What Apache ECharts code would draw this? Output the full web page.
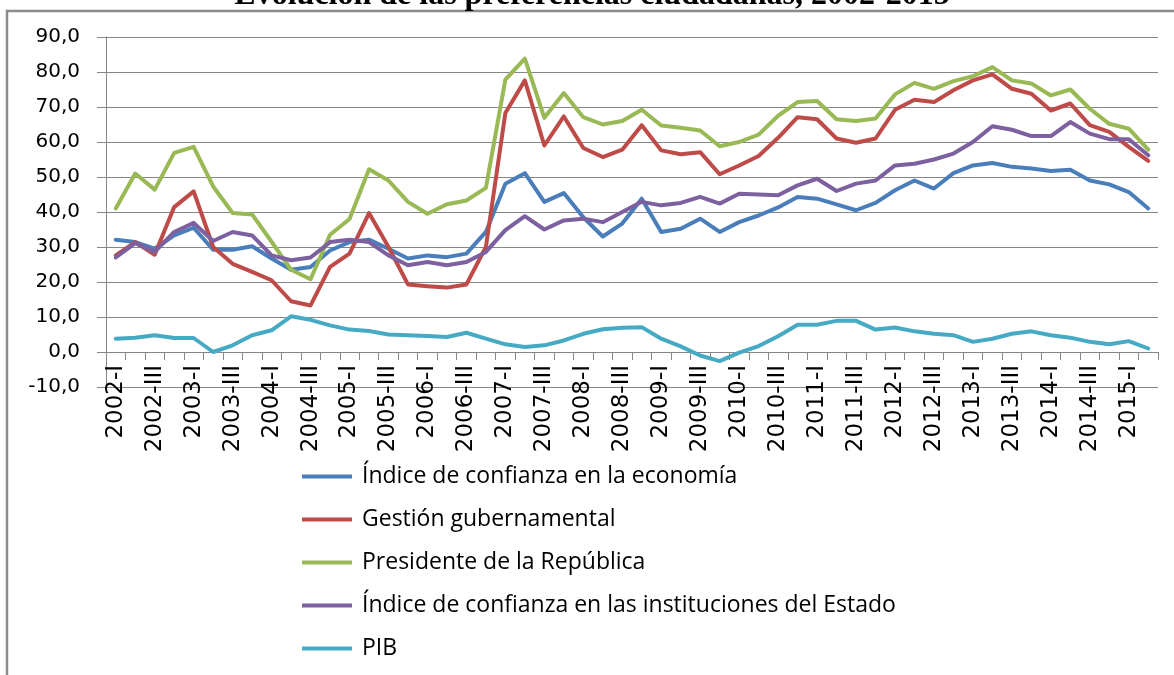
<!DOCTYPE html>
<html>
<head>
<meta charset="utf-8">
<title>Evolución de las preferencias ciudadanas</title>
<script src="https://cdn.jsdelivr.net/npm/echarts@6/dist/echarts.min.js"></script>
<style>
  html, body { margin: 0; padding: 0; background: #fff; }
  #chart { width: 1174px; height: 675px; }
</style>
</head>
<body>
<div id="chart"></div>
<script type="text/javascript">
// trimestres 2002-I .. 2015-II
var quarters = [
  '2002-I','2002-II','2002-III','2002-IV','2003-I','2003-II','2003-III','2003-IV',
  '2004-I','2004-II','2004-III','2004-IV','2005-I','2005-II','2005-III','2005-IV',
  '2006-I','2006-II','2006-III','2006-IV','2007-I','2007-II','2007-III','2007-IV',
  '2008-I','2008-II','2008-III','2008-IV','2009-I','2009-II','2009-III','2009-IV',
  '2010-I','2010-II','2010-III','2010-IV','2011-I','2011-II','2011-III','2011-IV',
  '2012-I','2012-II','2012-III','2012-IV','2013-I','2013-II','2013-III','2013-IV',
  '2014-I','2014-II','2014-III','2014-IV','2015-I','2015-II'
];

var seriesNames = [
  'Índice de confianza en la economía',
  'Gestión gubernamental',
  'Presidente de la República',
  'Índice de confianza en las instituciones del Estado',
  'PIB'
];
var colors = ['#4A7EBB', '#BE4B48', '#98B954', '#7D60A0', '#46AAC5'];

var economia = [32.1,31.4,29.5,33.3,35.5,29.2,29.2,30.2,26.7,23.5,24.3,29.0,31.4,32.1,29.5,26.7,
  27.6,27.1,28.1,34.3,48.1,51.1,42.9,45.4,38.5,33.0,36.7,43.8,34.3,35.2,38.1,34.3,
  37.1,39.0,41.3,44.3,43.8,42.2,40.5,42.6,46.2,49.0,46.7,51.1,53.3,54.0,52.9,52.4,
  51.7,52.1,49.0,47.9,45.7,41.0];
var gestion = [27.6,31.4,27.8,41.4,45.9,30.0,25.2,22.9,20.5,14.5,13.3,24.3,28.1,39.7,30.0,19.3,
  18.8,18.4,19.3,30.0,68.3,77.6,59.0,67.3,58.3,55.7,57.8,64.8,57.6,56.5,57.1,50.8,
  53.3,56.0,61.2,67.1,66.5,61.0,59.8,61.0,69.2,72.1,71.4,74.8,77.6,79.3,75.2,73.8,
  69.0,71.0,64.8,62.9,58.6,54.6];
var presidente = [41.0,51.0,46.4,56.9,58.6,47.3,39.7,39.3,31.5,23.5,20.8,33.5,38.0,52.2,49.0,42.9,
  39.5,42.2,43.3,46.9,77.8,83.8,66.9,74.0,67.1,65.0,66.0,69.2,64.7,64.1,63.3,58.8,
  60.0,62.1,67.5,71.4,71.7,66.5,66.0,66.7,73.6,76.9,75.2,77.4,78.8,81.4,77.6,76.7,
  73.3,75.0,69.5,65.2,63.8,57.8];
var instituciones = [27.0,31.1,28.6,34.3,36.9,31.7,34.3,33.3,27.6,26.2,27.0,31.4,32.1,31.4,27.6,24.8,
  25.7,24.8,25.7,28.6,34.8,38.8,35.0,37.6,38.1,37.1,40.0,42.9,41.9,42.6,44.3,42.4,
  45.2,45.0,44.8,47.6,49.5,46.0,48.1,49.0,53.3,53.8,55.0,56.7,60.0,64.5,63.5,61.7,
  61.7,65.7,62.4,60.8,60.8,56.2];
var pib = [3.8,4.1,4.8,4.0,4.0,0.0,1.9,4.8,6.2,10.2,9.2,7.6,6.4,6.0,5.0,4.8,
  4.6,4.3,5.5,3.8,2.2,1.4,1.9,3.3,5.2,6.5,6.9,7.1,3.8,1.6,-1.0,-2.6,
  -0.2,1.7,4.5,7.8,7.8,8.9,8.9,6.4,7.0,5.9,5.2,4.8,2.9,3.8,5.2,5.9,
  4.8,4.1,2.9,2.2,3.1,1.0];

var values = [economia, gestion, presidente, instituciones, pib];

var gridColor = '#868686';

var myChart = echarts.init(document.getElementById('chart'));

var series = [];
for (var i = 0; i < seriesNames.length; i++) {
  series.push({
    name: seriesNames[i],
    type: 'line',
    data: values[i],
    symbol: 'none',
    itemStyle: { color: colors[i] },
    lineStyle: { color: colors[i], width: 4, join: 'round', cap: 'round' }
  });
}

var option = {
  animation: false,
  backgroundColor: '#fff',
  graphic: [
    {
      type: 'rect',
      shape: { x: 7, y: 11, width: 1400, height: 900 },
      style: { fill: 'none', stroke: '#8c8c8c', lineWidth: 2.5 },
      silent: true
    },
    {
      type: 'text',
      x: 592,
      y: -4,
      style: {
        text: 'Evolución de las preferencias ciudadanas, 2002-2015',
        font: 'bold 32px "Liberation Serif"',
        fill: '#000',
        align: 'center',
        verticalAlign: 'middle'
      },
      silent: true
    }
  ],
  grid: { left: 106, right: 16, top: 37, bottom: 288 },
  legend: {
    data: seriesNames,
    orient: 'vertical',
    left: 302,
    top: 465,
    padding: 0,
    icon: 'rect',
    itemWidth: 50,
    itemHeight: 4,
    itemGap: 20,
    selectedMode: false,
    textStyle: {
      fontFamily: 'Open Sans',
      fontSize: 23,
      lineHeight: 20,
      color: '#000',
      padding: [0, 0, 0, 5]
    }
  },
  xAxis: {
    type: 'category',
    data: quarters,
    boundaryGap: true,
    position: 'bottom',
    // eje horizontal cruza en 0 (35 px sobre el borde inferior de -10)
    offset: -35,
    axisLine: { onZero: false, lineStyle: { color: gridColor, width: 1 } },
    axisTick: { show: true, length: 8, interval: 0, lineStyle: { color: gridColor } },
    axisLabel: {
      interval: 1,
      rotate: 90,
      margin: 13,
      fontFamily: 'DejaVu Sans',
      fontSize: 23,
      color: '#000'
    },
    splitLine: { show: false }
  },
  yAxis: {
    type: 'value',
    min: -10,
    max: 90,
    interval: 10,
    axisLine: { show: true, lineStyle: { color: gridColor, width: 1 } },
    axisTick: { show: true, length: 9, lineStyle: { color: gridColor } },
    axisLabel: {
      margin: 26,
      fontFamily: 'DejaVu Sans',
      fontSize: 20,
      color: '#000',
      formatter: function (v) { return v.toFixed(1).replace('.', ','); }
    },
    splitLine: { show: true, lineStyle: { color: gridColor, width: 1 } }
  },
  series: series
};

myChart.setOption(option);
</script>
</body>
</html>
